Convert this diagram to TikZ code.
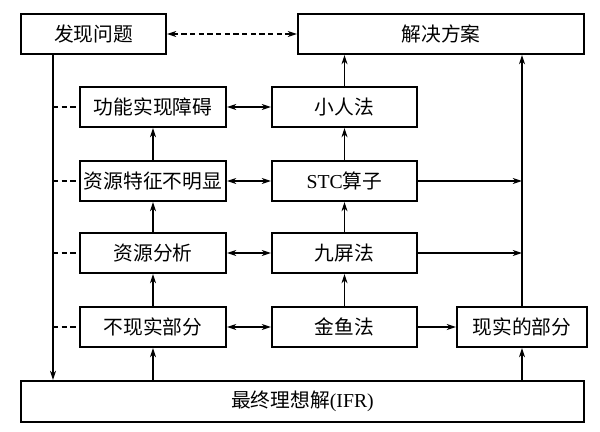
\documentclass[tikz,border=0pt]{standalone}
\usepackage{fontspec}
\setmainfont{Liberation Serif}
\newfontfamily\cjk{Noto Sans CJK SC}
\usetikzlibrary{arrows.meta}
\begin{document}
\begin{tikzpicture}[x=0.75pt,y=-0.75pt,
  box/.style={draw,line width=1.5pt,minimum height=30pt,inner sep=0pt,font=\fontsize{14.8}{16}\selectfont\cjk},
  con/.style={line width=0.85pt,-{Stealth[length=7pt,width=4.5pt]}},
  dcon/.style={line width=0.85pt,{Stealth[length=7pt,width=4.5pt]}-{Stealth[length=7pt,width=4.5pt]}},
  dsh/.style={line width=0.85pt,dash pattern=on 4pt off 2.5pt}]
\useasboundingbox (0,0) rectangle (600,432);
\node[box,minimum width=108.75pt] (find) at (93.5,34) {发现问题};
\node[box,minimum width=214.5pt] (sol) at (441,34) {解决方案};
\node[box,minimum width=109.5pt] (l1) at (153,107) {功能实现障碍};
\node[box,minimum width=109.5pt] (l2) at (153,181) {资源特征不明显};
\node[box,minimum width=109.5pt] (l3) at (153,253) {资源分析};
\node[box,minimum width=109.5pt] (l4) at (153,327) {不现实部分};
\node[box,minimum width=108.75pt] (m1) at (344.5,107) {小人法};
\node[box,minimum width=108.75pt] (m2) at (344.5,181) {{\rmfamily STC}算子};
\node[box,minimum width=108.75pt] (m3) at (344.5,253) {九屏法};
\node[box,minimum width=108.75pt] (m4) at (344.5,327) {金鱼法};
\node[box,minimum width=97.5pt] (r) at (522,327) {现实的部分};
\node[box,minimum width=422.25pt,minimum height=30.75pt] (ifr) at (302.5,401.5) {最终理想解{\rmfamily (IFR)}};
% coordinates for left trunk
\coordinate (lt) at (53,54);
\coordinate (lb) at (53,381);
\draw[con] (find.south -| lt) -- (ifr.north -| lb);
\foreach \n in {l1,l2,l3,l4}{
  \draw[dsh] (\n.west -| lt) -- (\n.west);
}
\draw[dcon,dsh] (find.east) -- (sol.west);
% left column ups
\draw[con] (ifr.north -| l4) -- (l4.south);
\draw[con] (l4) -- (l3);
\draw[con] (l3) -- (l2);
\draw[con] (l2) -- (l1);
% middle column ups
\draw[con] (m4) -- (m3);
\draw[con] (m3) -- (m2);
\draw[con] (m2) -- (m1);
\draw[con] (m1.north) -- (sol.south -| m1);
% horizontal double arrows
\draw[dcon] (l1) -- (m1);
\draw[dcon] (l2) -- (m2);
\draw[dcon] (l3) -- (m3);
\draw[dcon] (l4) -- (m4);
% right side
\draw[con] (m4) -- (r);
\draw[con] (ifr.north -| r) -- (r.south);
\draw[con] (r.north) -- (sol.south -| r);
\draw[con] (m2.east) -- (m2.east -| r);
\draw[con] (m3.east) -- (m3.east -| r);
\end{tikzpicture}
\end{document}
